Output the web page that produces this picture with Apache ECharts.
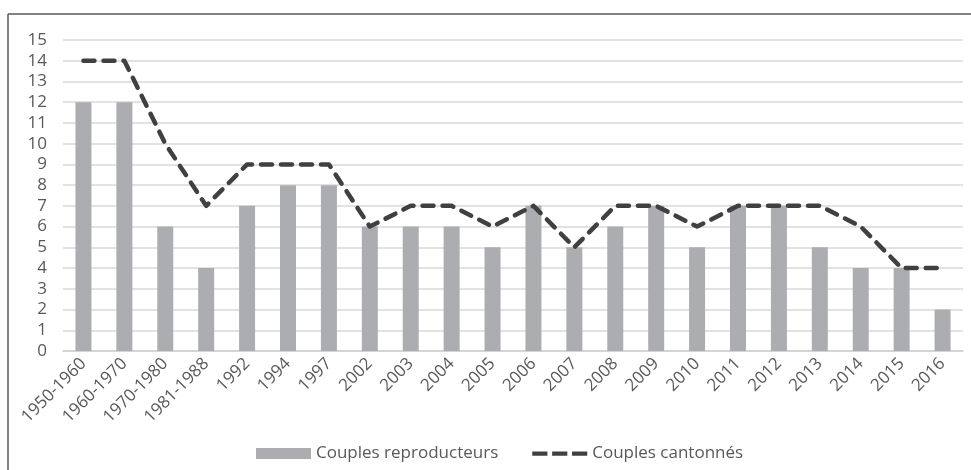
<!DOCTYPE html>
<html>
<head>
<meta charset="utf-8">
<script src="https://cdn.jsdelivr.net/npm/echarts@6/dist/echarts.min.js"></script>
<style>
  html, body { margin: 0; padding: 0; background: #fff; }
  #chart { width: 971px; height: 470px; }
</style>
</head>
<body>
<div id="chart"></div>
<script>
  // categories + series
  var periods = ['1950-1960', '1960-1970', '1970-1980', '1981-1988', '1992', '1994', '1997',
    '2002', '2003', '2004', '2005', '2006', '2007', '2008', '2009', '2010', '2011',
    '2012', '2013', '2014', '2015', '2016'];
  var reproducteurs = [12, 12, 6, 4, 7, 8, 8, 6, 6, 6, 5, 7, 5, 6, 7, 5, 7, 7, 5, 4, 4, 2];
  var cantonnes = [14, 14, 10, 7, 9, 9, 9, 6, 7, 7, 6, 7, 5, 7, 7, 6, 7, 7, 7, 6, 4, 4];

  var font = '"Open Sans", sans-serif';
  // three-dash legend icon (tiny specks keep the bounding box 11 high)
  var dashIcon = 'path://M0,0h0.01v0.01h-0.01z M0,11h0.01v0.01h-0.01z ' +
    'M0,3.5h16v4.5h-16z M21,3.5h16v4.5h-16z M42,3.5h16v4.5h-16z';

  var myChart = echarts.init(document.getElementById('chart'));
  myChart.setOption({
    animation: false,
    textStyle: { fontFamily: font },
    graphic: [
      // frame (only top + left edges are visible in the picture)
      { type: 'line', shape: { x1: 8, y1: 14, x2: 971, y2: 14 }, style: { stroke: '#5a5a5a', lineWidth: 1.5 } },
      { type: 'line', shape: { x1: 8, y1: 14, x2: 8, y2: 470 }, style: { stroke: '#5a5a5a', lineWidth: 1.5 } }
    ],
    grid: { left: 63, right: 8, top: 40, bottom: 119 },
    legend: {
      left: 251,
      top: 440,
      itemWidth: 55,
      itemHeight: 11,
      itemGap: 34,
      textStyle: { fontSize: 17, color: '#595959', fontFamily: font },
      data: [
        { name: 'Couples reproducteurs', icon: 'rect' },
        { name: 'Couples cantonnés', icon: dashIcon, itemStyle: { color: '#404040' } }
      ]
    },
    xAxis: {
      type: 'category',
      data: periods,
      axisLine: { lineStyle: { color: '#d0d0d0', width: 1.5 } },
      axisTick: { show: false },
      axisLabel: { rotate: 45, fontSize: 17, color: '#595959', margin: 10, interval: 0 }
    },
    yAxis: {
      type: 'value',
      min: 0,
      max: 15,
      interval: 1,
      axisLine: { show: false },
      axisTick: { show: false },
      axisLabel: { fontSize: 17, color: '#595959', margin: 16 },
      splitLine: { lineStyle: { color: '#d9d9d9', width: 1.5 } }
    },
    series: [{
      name: 'Couples reproducteurs',
      type: 'bar',
      data: reproducteurs,
      barWidth: 16,
      itemStyle: { color: '#acadb0' }
    }, {
      name: 'Couples cantonnés',
      type: 'line',
      data: cantonnes,
      symbol: 'none',
      itemStyle: { color: '#404040' },
      lineStyle: { color: '#404040', width: 4.5, type: [11, 9], cap: 'round', join: 'round' }
    }]
  });
</script>
</body>
</html>
